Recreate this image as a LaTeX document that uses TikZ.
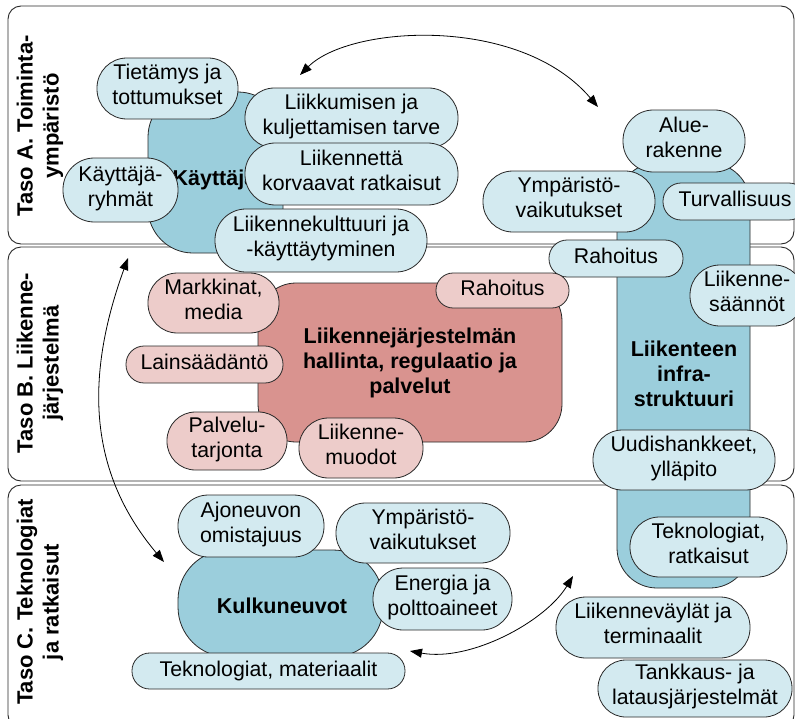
\documentclass[tikz,border=0pt]{standalone}
\usepackage{fontspec}
\setmainfont{Liberation Sans}
\usetikzlibrary{arrows.meta}

\definecolor{pale}{RGB}{211,234,240}
\definecolor{deep}{RGB}{155,206,220}
\definecolor{rose}{RGB}{237,204,202}
\definecolor{brick}{RGB}{217,147,143}
\definecolor{edge}{RGB}{40,40,40}

\tikzset{
  layer/.style={draw=edge, line width=0.9pt, rounded corners=13pt, fill=white},
  core/.style={draw=edge, line width=0.8pt, inner sep=0pt},
  coretext/.style={align=center, inner sep=0pt,
    font=\bfseries\fontsize{21.5}{25}\selectfont},
  pillbase/.style={draw=edge, line width=0.8pt, fill=pale, inner sep=0pt,
    align=center, font=\fontsize{21.3}{25}\selectfont,
    execute at begin node=\strut, execute at end node=\strut},
  pill/.style 2 args={pillbase, minimum width=#1pt, minimum height=#2pt,
    rounded corners=0.49*#2pt},
  rosepill/.style 2 args={pill={#1}{#2}, fill=rose},
  tasolabel/.style={rotate=90, align=center, inner sep=0pt,
    font=\bfseries\fontsize{22}{26}\selectfont},
  link/.style={line width=0.8pt,
    {Triangle[length=12pt,width=9pt]}-{Triangle[length=12pt,width=9pt]}}
}

\begin{document}
\begin{tikzpicture}[x=1pt, y=-1pt]
  \useasboundingbox (0,0) rectangle (795,718);

  % three levels
  \draw[layer] (8,6) rectangle (794,244);
  \draw[layer] (8,247) rectangle (794,481);
  \draw[layer] (8,485) rectangle (794,728);

  \node[tasolabel] (labA) at (40,126) {Taso A. Toiminta-\\ympäristö};
  \node[tasolabel] (labB) at (40,363) {Taso B. Liikenne-\\järjestelmä};
  \node[tasolabel] (labC) at (40,602) {Taso C. Teknologiat\\ja ratkaisut};

  % main blocks
  \node[core, fill=deep, rounded corners=45pt, minimum width=135pt, minimum height=161pt] (kaytt) at (215.5,172.5) {};
  \node[coretext] (kayttxt) at (218,180) {Käyttäjät};
  \node[core, fill=deep, rounded corners=40pt, minimum width=133pt, minimum height=425pt] (infra) at (683.5,375.5) {};
  \node[coretext] (infratxt) at (684,374) {Liikenteen\\infra-\\struktuuri};
  \node[core, fill=brick, rounded corners=38pt, minimum width=304pt, minimum height=159pt] (hall) at (410,362.5) {};
  \node[coretext] (halltxt) at (410,363) {Liikennejärjestelmän\\hallinta, regulaatio ja\\palvelut};
  \node[core, fill=deep, rounded corners=50pt, minimum width=205pt, minimum height=107pt] (kulk) at (280.5,603.5) {};
  \node[coretext] (kulktxt) at (282,606) {Kulkuneuvot};

  % level A items
  \node[pill={141}{61}] (tiet) at (167.5,88.5) {Tietämys ja\\tottumukset};
  \node[pill={213}{60}] (liikk) at (351.5,118) {Liikkumisen ja\\kuljettamisen tarve};
  \node[pill={213}{62}] (korv) at (351.5,174) {Liikennettä\\korvaavat ratkaisut};
  \node[pill={115}{64}] (ryhm) at (120.5,190) {Käyttäjä-\\ryhmät};
  \node[pill={212}{63}] (kult) at (321,240.5) {Liikennekulttuuri ja\\-käyttäytyminen};
  \node[pill={122}{62}] (alue) at (684,141) {Alue-\\rakenne};
  \node[pill={172}{61}] (ympA) at (569,201.5) {Ympäristö-\\vaikutukset};
  \node[pill={144}{37}] (turv) at (735,201.5) {Turvallisuus};

  % infrastructure items
  \node[pill={134}{37}] (rahB) at (616,258.5) {Rahoitus};
  \node[pill={114}{61}] (saan) at (747,295.5) {Liikenne-\\säännöt};
  \node[pill={182}{60}] (uudis) at (684,460) {Uudishankkeet,\\ylläpito};
  \node[pill={157}{60}] (tekR) at (708.5,547) {Teknologiat,\\ratkaisut};
  \node[pill={194}{61}] (vayl) at (653,627.5) {Liikenneväylät ja\\terminaalit};
  \node[pill={194}{57}] (tank) at (695,688.5) {Tankkaus- ja\\latausjärjestelmät};

  % level B items
  \node[rosepill={131}{60}] (mark) at (213.5,303) {Markkinat,\\media};
  \node[rosepill={157}{37}] (lain) at (204.5,364.5) {Lainsäädäntö};
  \node[rosepill={120}{58}] (palv) at (227,441) {Palvelu-\\tarjonta};
  \node[rosepill={124}{60}] (muod) at (361,448) {Liikenne-\\muodot};
  \node[rosepill={133}{35}] (rahP) at (502.5,290.5) {Rahoitus};

  % level C items
  \node[pill={146}{62}] (ajon) at (251,526) {Ajoneuvon\\omistajuus};
  \node[pill={174}{60}] (ympC) at (423,533) {Ympäristö-\\vaikutukset};
  \node[pill={139}{62}] (ener) at (442.5,599) {Energia ja\\polttoaineet};
  \node[pill={273}{36}] (tekM) at (268.5,671) {Teknologiat, materiaalit};

  % interactions between the levels
  \coordinate (aL) at (300,75);
  \coordinate (aR) at (598,107);
  \draw[link] (aL) .. controls (350,25) and (520,15) .. (aR);

  \coordinate (bT) at (128,258);
  \coordinate (bB) at (164,562);
  \draw[link] (bT) .. controls (80,390) and (95,480) .. (bB);

  \coordinate (cL) at (410,651);
  \coordinate (cR) at (573,576);
  \draw[link] (cL) .. controls (470,662) and (545,622) .. (cR);
\end{tikzpicture}
\end{document}
